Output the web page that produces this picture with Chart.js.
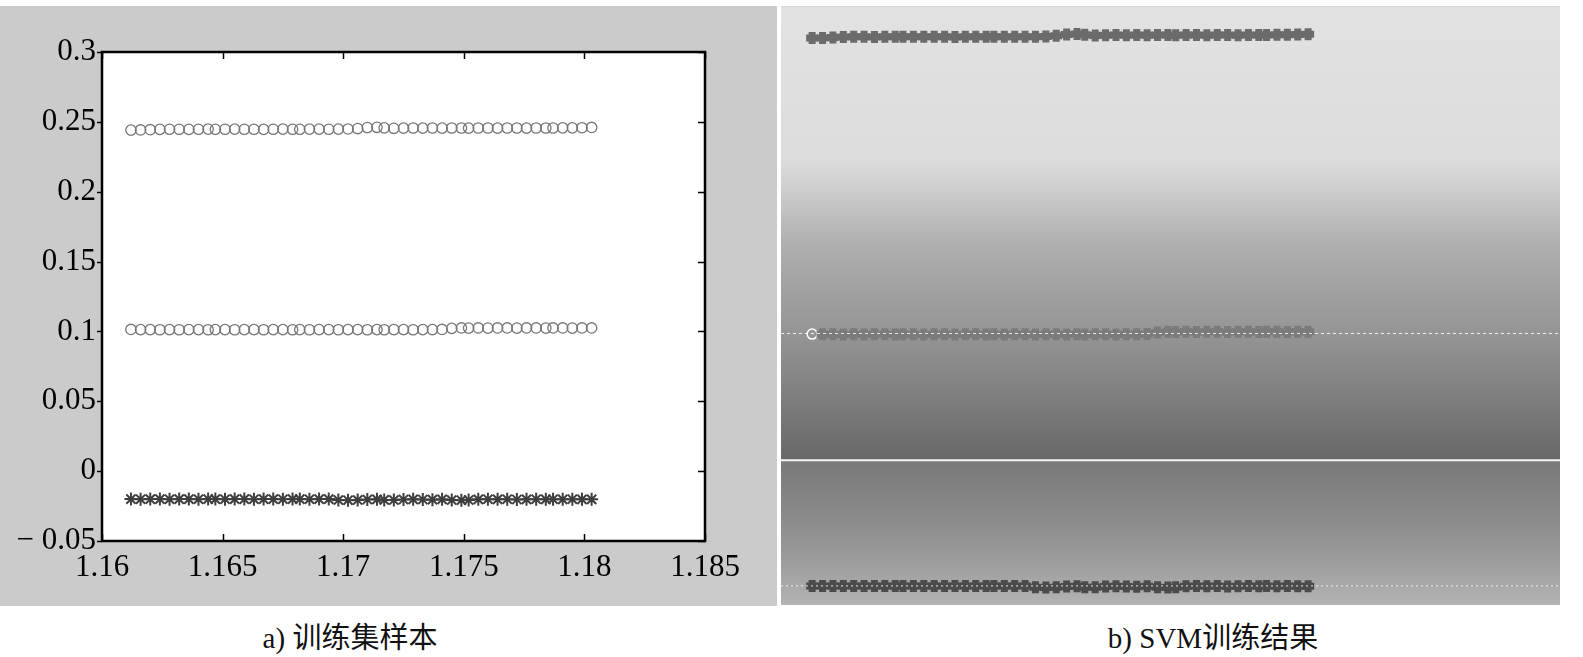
<!DOCTYPE html>
<html lang="zh-CN">
<head>
<meta charset="utf-8">
<title>训练集样本 / SVM训练结果</title>
<script src="https://cdn.jsdelivr.net/npm/chart.js@4.4.1/dist/chart.umd.min.js"></script>
<style>
    html, body { margin: 0; padding: 0; background: #fff; }
    body { width: 1583px; height: 657px; position: relative; overflow: hidden; }
    #leftPanel { position: absolute; left: 0; top: 6px; width: 777px; height: 600px; background: #cbcbcb; }
    #rightPanel { position: absolute; left: 781px; top: 6px; width: 779px; height: 598px; border-top: 1px solid #d4d4d4; }
    .caption {
        position: absolute; top: 620px; transform: translateX(-50%);
        font: 29px "Liberation Serif", "Noto Sans CJK SC", serif; color: #111;
        line-height: 36px; white-space: nowrap;
    }
</style>
</head>
<body>
<div id="leftPanel"><canvas id="samplesChart"></canvas></div>
<div id="rightPanel"><canvas id="svmChart"></canvas></div>
<div class="caption" style="left:350px">a) 训练集样本</div>
<div class="caption" style="left:1213px">b) SVM训练结果</div>

<script>
// ============================================================
// DATA - values
// ============================================================
const xSamples = [
    1.1612, 1.1616, 1.1620, 1.1624, 1.1628, 1.1632, 1.1636, 1.1640, 1.1644, 1.1647,
    1.1651, 1.1655, 1.1659, 1.1663, 1.1667, 1.1671, 1.1675, 1.1679, 1.1682, 1.1686,
    1.1690, 1.1694, 1.1698, 1.1702, 1.1706, 1.1710, 1.1714, 1.1717, 1.1721, 1.1725,
    1.1729, 1.1733, 1.1737, 1.1741, 1.1745, 1.1749, 1.1752, 1.1756, 1.1760, 1.1764,
    1.1768, 1.1772, 1.1776, 1.1780, 1.1784, 1.1787, 1.1791, 1.1795, 1.1799, 1.1803
];

// class 1, upper row (o)
const upperCircles = [
    0.2441, 0.2442, 0.2444, 0.2446, 0.2447, 0.2447, 0.2446, 0.2447, 0.2448, 0.2447,
    0.2447, 0.2448, 0.2447, 0.2447, 0.2446, 0.2447, 0.2448, 0.2447, 0.2447, 0.2448,
    0.2448, 0.2447, 0.2448, 0.2449, 0.2452, 0.2459, 0.2461, 0.2457, 0.2454, 0.2455,
    0.2456, 0.2455, 0.2456, 0.2455, 0.2456, 0.2456, 0.2455, 0.2456, 0.2456, 0.2455,
    0.2456, 0.2456, 0.2455, 0.2456, 0.2456, 0.2456, 0.2457, 0.2457, 0.2458, 0.2460
];

// class 1, lower row (o)
const lowerCircles = [
    0.1014, 0.1013, 0.1013, 0.1012, 0.1013, 0.1012, 0.1013, 0.1013, 0.1012, 0.1013,
    0.1013, 0.1012, 0.1013, 0.1013, 0.1012, 0.1013, 0.1013, 0.1012, 0.1013, 0.1012,
    0.1013, 0.1013, 0.1012, 0.1013, 0.1013, 0.1012, 0.1013, 0.1012, 0.1013, 0.1013,
    0.1012, 0.1013, 0.1013, 0.1014, 0.1022, 0.1025, 0.1024, 0.1025, 0.1024, 0.1025,
    0.1025, 0.1024, 0.1025, 0.1025, 0.1024, 0.1025, 0.1025, 0.1024, 0.1025, 0.1025
];

// class 2 (*)
const stars = [
    -0.0200, -0.0201, -0.0200, -0.0200, -0.0201, -0.0200, -0.0200, -0.0201, -0.0200, -0.0200,
    -0.0201, -0.0200, -0.0200, -0.0201, -0.0200, -0.0200, -0.0201, -0.0200, -0.0200, -0.0201,
    -0.0200, -0.0200, -0.0207, -0.0208, -0.0207, -0.0203, -0.0202, -0.0206, -0.0207, -0.0203,
    -0.0202, -0.0203, -0.0204, -0.0202, -0.0207, -0.0208, -0.0207, -0.0202, -0.0201, -0.0202,
    -0.0201, -0.0203, -0.0202, -0.0201, -0.0202, -0.0201, -0.0202, -0.0201, -0.0202, -0.0202
];

const xTicks = [1.16, 1.165, 1.17, 1.175, 1.18, 1.185];
const xTickLabels = ['1.16', '1.165', '1.17', '1.175', '1.18', '1.185'];
const yTicks = [0.3, 0.25, 0.2, 0.15, 0.1, 0.05, 0, -0.05];
const yTickLabels = ['0.3', '0.25', '0.2', '0.15', '0.1', '0.05', '0', '\u2212 0.05'];

// SVM result panel: view window, decision boundary and margin lines
const svmXRange = [1.16, 1.19];
const svmYRange = [-0.0292, 0.2591];
const boundaryLevel = 0.0406;
const marginLevels = [0.1017, -0.0200];

const toPoints = (xs, ys) => xs.map((x, i) => ({ x: x, y: ys[i] }));

// ============================================================
// a) 训练集样本
// ============================================================
const SERIF = '"Liberation Serif", "Times New Roman", serif';

const whiteArea = {
    id: 'whiteArea',
    beforeDraw(chart) {
        const { ctx, chartArea: a } = chart;
        ctx.save();
        ctx.fillStyle = '#fff';
        ctx.fillRect(a.left, a.top, a.right - a.left, a.bottom - a.top);
        ctx.restore();
    }
};

// MATLAB-like box with inward ticks (left ticks stick out)
const boxTicks = {
    id: 'boxTicks',
    afterDraw(chart) {
        const { ctx, chartArea: a, scales: { x, y } } = chart;
        ctx.save();
        ctx.strokeStyle = '#000';
        ctx.lineWidth = 1.5;
        ctx.beginPath();
        xTicks.forEach(v => {
            const px = Math.round(x.getPixelForValue(v)) + 0.5;
            ctx.moveTo(px, a.bottom); ctx.lineTo(px, a.bottom - 7);
            ctx.moveTo(px, a.top); ctx.lineTo(px, a.top + 7);
        });
        yTicks.forEach(v => {
            const py = Math.round(y.getPixelForValue(v)) + 0.5;
            ctx.moveTo(a.left - 5, py); ctx.lineTo(a.left, py);
            ctx.moveTo(a.right, py); ctx.lineTo(a.right - 7, py);
        });
        ctx.stroke();
        ctx.lineWidth = 2.5;
        ctx.strokeRect(a.left, a.top, a.right - a.left, a.bottom - a.top);
        ctx.restore();
    }
};

new Chart(document.getElementById('samplesChart'), {
    type: 'scatter',
    data: {
        datasets: [
            {
                data: toPoints(xSamples, upperCircles),
                pointStyle: 'circle', pointRadius: 5.2,
                pointBorderColor: '#767676', pointBorderWidth: 1.3,
                pointBackgroundColor: 'rgba(0,0,0,0)'
            },
            {
                data: toPoints(xSamples, lowerCircles),
                pointStyle: 'circle', pointRadius: 5.2,
                pointBorderColor: '#767676', pointBorderWidth: 1.3,
                pointBackgroundColor: 'rgba(0,0,0,0)'
            },
            {
                data: toPoints(xSamples, stars),
                pointStyle: 'star', pointRadius: 6.5,
                pointBorderColor: '#3e3e3e', pointBorderWidth: 2,
                pointBackgroundColor: '#3e3e3e'
            }
        ]
    },
    options: {
        responsive: true,
        maintainAspectRatio: false,
        animation: false,
        events: [],
        layout: { autoPadding: false, padding: { left: 0, top: 46, right: 72, bottom: 0 } },
        plugins: { legend: { display: false }, tooltip: { enabled: false } },
        scales: {
            x: {
                type: 'linear', min: 1.16, max: 1.185,
                afterBuildTicks: s => { s.ticks = xTicks.map(v => ({ value: v })); },
                afterFit: s => { s.height = 65; },
                grid: { display: false, drawTicks: false },
                border: { display: false },
                ticks: {
                    padding: 8, color: '#000', maxRotation: 0, autoSkip: false,
                    font: { family: SERIF, size: 31 },
                    callback: (v, i) => xTickLabels[i]
                }
            },
            y: {
                type: 'linear', min: -0.05, max: 0.3,
                afterBuildTicks: s => { s.ticks = yTicks.slice().reverse().map(v => ({ value: v })); },
                afterFit: s => { s.width = 102; },
                grid: { display: false, drawTicks: false },
                border: { display: false },
                ticks: {
                    padding: 6, color: '#000', autoSkip: false,
                    font: { family: SERIF, size: 31 },
                    callback: v => yTickLabels[yTicks.findIndex(t => Math.abs(t - v) < 1e-9)]
                }
            }
        }
    },
    plugins: [whiteArea, boxTicks]
});

// ============================================================
// b) SVM训练结果
// ============================================================
const upperShade = [
    [0.00, '#e2e2e2'], [0.34, '#dcdcdc'], [0.40, '#cecece'], [0.46, '#bfbfbf'],
    [0.52, '#b0b0b0'], [0.60, '#a4a4a4'], [0.72, '#959595'], [0.82, '#858585'],
    [0.91, '#767676'], [1.00, '#686868']
];
const lowerShade = [
    [0.00, '#797979'], [0.35, '#888888'], [0.65, '#999999'], [1.00, '#b3b3b3']
];

const svmShade = {
    id: 'svmShade',
    beforeDatasetsDraw(chart) {
        const { ctx, chartArea: a, scales: { y } } = chart;
        const yb = y.getPixelForValue(boundaryLevel);
        ctx.save();
        let g = ctx.createLinearGradient(0, a.top, 0, yb);
        upperShade.forEach(([p, c]) => g.addColorStop(p, c));
        ctx.fillStyle = g;
        ctx.fillRect(a.left, a.top, a.right - a.left, yb - a.top);
        g = ctx.createLinearGradient(0, yb, 0, a.bottom);
        lowerShade.forEach(([p, c]) => g.addColorStop(p, c));
        ctx.fillStyle = g;
        ctx.fillRect(a.left, yb, a.right - a.left, a.bottom - yb);
        ctx.restore();
    }
};

const levelLine = (level, style) => Object.assign({
    type: 'line',
    data: svmXRange.map(x => ({ x: x, y: level })),
    showLine: true, pointRadius: 0, fill: false
}, style);

new Chart(document.getElementById('svmChart'), {
    type: 'scatter',
    data: {
        datasets: [
            {
                data: toPoints(xSamples, upperCircles), order: 2,
                pointStyle: 'cross', pointRadius: 6,
                pointBorderColor: '#6b6b6b', pointBorderWidth: 7
            },
            {
                data: toPoints(xSamples, lowerCircles), order: 2,
                pointStyle: c => c.dataIndex === 0 ? 'circle' : 'cross',
                pointRadius: c => c.dataIndex === 0 ? 5 : 6,
                pointBorderColor: c => c.dataIndex === 0 ? '#ffffff' : '#7b7b7b',
                pointBorderWidth: c => c.dataIndex === 0 ? 1.5 : 7,
                pointBackgroundColor: 'rgba(0,0,0,0)'
            },
            {
                data: toPoints(xSamples, stars), order: 2,
                pointStyle: 'cross', pointRadius: 6,
                pointBorderColor: '#4b4b4b', pointBorderWidth: 7
            },
            levelLine(boundaryLevel, { borderColor: '#f6f6f6', borderWidth: 2, order: 1 }),
            levelLine(marginLevels[0], { borderColor: 'rgba(255,255,255,0.85)', borderWidth: 1, borderDash: [3, 3], order: 0 }),
            levelLine(marginLevels[1], { borderColor: 'rgba(255,255,255,0.85)', borderWidth: 1, borderDash: [2, 3], order: 0 })
        ]
    },
    options: {
        responsive: true,
        maintainAspectRatio: false,
        animation: false,
        events: [],
        layout: { autoPadding: false, padding: 0 },
        plugins: { legend: { display: false }, tooltip: { enabled: false } },
        scales: {
            x: { type: 'linear', display: false, min: svmXRange[0], max: svmXRange[1] },
            y: { type: 'linear', display: false, min: svmYRange[0], max: svmYRange[1] }
        }
    },
    plugins: [svmShade]
});
</script>
</body>
</html>
